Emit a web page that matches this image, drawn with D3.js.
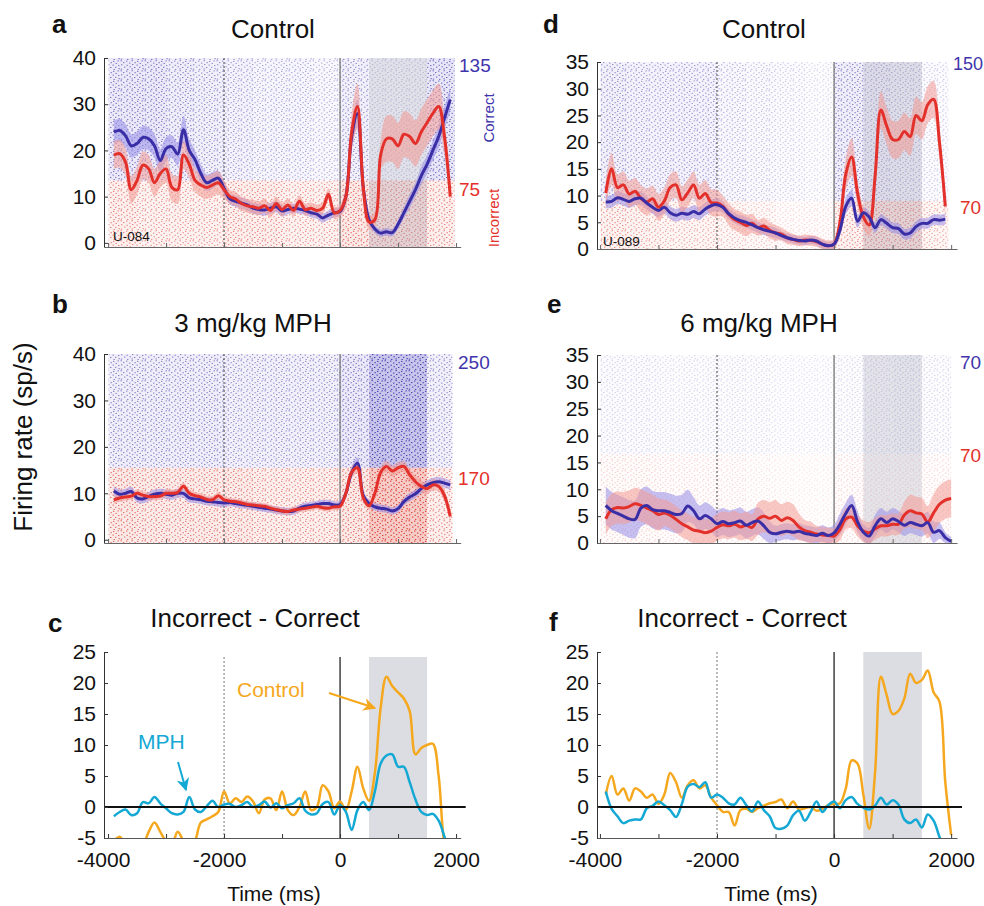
<!DOCTYPE html>
<html>
<head>
<meta charset="utf-8">
<script src="https://cdn.jsdelivr.net/npm/d3@7/dist/d3.min.js"></script>
<style>
  body { margin: 0; background: #ffffff; }
  svg { display: block; }
</style>
</head>
<body>
<svg id="chart" width="984" height="906"></svg>
<script>
// ---- data --------------------------------------------------------------
// time grids in ms, relative to the target onset
const tGrid = d3.range(-3900, 2000, 100);      // -3900 .. 1900
const tGridLong = d3.range(-3900, 2100, 100);  // -3900 .. 2000
const rasterBins = d3.range(-4000, 2000, 500); // 500 ms bins for raster density

// panel a: unit U-084, control session (sp/s)
const aCorrect = [24, 24.3, 23.2, 21, 21.5, 22.8, 22.5, 21, 17.8, 20.4,
  20.8, 19.2, 24.5, 20, 18, 15, 13, 13.5, 14, 11.8,
  9.5, 9, 8.6, 8.2, 7.5, 7.2, 7.1, 7.5, 7.8, 6.9,
  7.2, 7.5, 7.3, 7, 6.5, 6.2, 5.4, 6, 6.5, 6.8,
  10, 23, 28, 12, 5, 3, 2.1, 2.4, 2.2, 4,
  6.5, 9, 11.5, 14.5, 17, 20, 23, 27, 31];
const aIncorrect = [19, 19.3, 17.5, 11.5, 13.5, 16.8, 16, 13, 15, 16,
  12, 11.5, 19, 17, 13.5, 12.5, 12, 12.5, 13, 11.5,
  10, 9.5, 8.5, 8, 7.8, 7.5, 8, 7, 8.5, 7.2,
  8.2, 7, 9, 7.2, 7.5, 7, 7.5, 10.5, 6.5, 7,
  10, 24, 29.5, 12, 4.5, 5, 19, 22.5, 22.5, 21,
  23.5, 23, 21.5, 24, 26, 28, 29.5, 23, 10];
const aCorrectErr = [2.5, 2.5, 2.5, 2.5, 2.5, 2.5, 2.5, 2.5, 2.5, 2.5,
  2.5, 2.5, 3, 2.5, 2, 2, 1.8, 1.8, 1.5, 1.5,
  1.2, 1.2, 1.2, 1.2, 1.2, 1.2, 1.2, 1.2, 1.2, 1.2,
  1, 1, 1, 1, 1, 1, 1, 1, 1, 1,
  1.5, 2.5, 3, 2, 1, 0.8, 0.8, 0.8, 0.8, 1,
  1.2, 1.5, 1.5, 2, 2, 2, 2.5, 2.5, 2.5];
const aIncorrectErr = [3, 3, 3, 3, 3, 3, 3, 3, 3, 3,
  3, 3, 3, 3, 2.5, 2.5, 2.5, 2.5, 2.5, 2,
  1.5, 1.5, 1.5, 1.5, 1.5, 1.5, 1.5, 1.5, 1.5, 1.5,
  1.3, 1.3, 1.3, 1.3, 1.3, 1.3, 1.3, 1.3, 1.3, 1.3,
  2.5, 4, 5, 3, 1.5, 1.5, 3, 5, 5, 5,
  5, 5, 5, 5, 5, 5, 5, 4, 2];
const aCorrectDensity = [0.6, 0.6, 0.55, 0.5, 0.45, 0.4, 0.4, 0.35, 0.5, 0.4, 0.4, 0.65];
const aIncorrectDensity = [0.55, 0.5, 0.5, 0.5, 0.55, 0.55, 0.5, 0.5, 0.65, 0.9, 0.9, 0.55];

// panel b: same unit, 3 mg/kg MPH
const bCorrect = [10.5, 9.8, 10, 10.4, 9, 8.8, 9.3, 9.8, 10, 9.8,
  9.6, 10, 10, 9, 8.8, 8.6, 8.3, 8.2, 8, 7.9,
  8, 7.8, 7.6, 7.4, 7.2, 7, 6.8, 6.6, 6.4, 6.2,
  6.1, 6.2, 6.8, 7.2, 7.4, 7.6, 7.8, 7.8, 7.5, 7.6,
  10, 14.5, 16.5, 9.5, 7.8, 7.1, 6.8, 6.6, 6.2, 6.7,
  8.2, 9.2, 9.9, 11, 11.8, 12.3, 12.5, 12.2, 11.8];
const bIncorrect = [8.6, 9, 9.2, 9.4, 10, 9.6, 9.3, 9.3, 9.4, 10,
  10, 10.2, 11.5, 10, 9.5, 9.2, 8.7, 8.6, 9.5, 8.6,
  8.3, 8.2, 7.9, 7.6, 7.5, 7.3, 7.2, 6.8, 6.5, 6.2,
  6.1, 6.4, 6.6, 6.8, 7, 7.2, 6.9, 6.8, 7.1, 7.2,
  10, 14.5, 15.5, 9, 7.3, 10, 14.5, 15.8, 14.8, 15.5,
  15.8, 14, 12.5, 11.5, 11, 11.8, 11.5, 9.5, 5];
const bCorrectErr = [1, 1, 1, 1, 1, 1, 1, 1, 1, 1,
  1, 1, 1, 1, 0.9, 0.9, 0.9, 0.9, 0.9, 0.9,
  0.8, 0.8, 0.8, 0.8, 0.8, 0.8, 0.8, 0.8, 0.8, 0.8,
  0.8, 0.8, 0.8, 0.8, 0.8, 0.8, 0.8, 0.8, 0.8, 0.8,
  1, 1.2, 1.2, 1, 0.8, 0.8, 0.8, 0.8, 0.8, 0.8,
  0.8, 0.9, 0.9, 1, 1, 1, 1, 1, 1];
const bIncorrectErr = [0.8, 0.8, 0.8, 0.8, 0.8, 0.8, 0.8, 0.8, 0.8, 0.8,
  0.8, 0.8, 0.8, 0.8, 0.8, 0.8, 0.8, 0.8, 0.8, 0.8,
  0.7, 0.7, 0.7, 0.7, 0.7, 0.7, 0.7, 0.7, 0.7, 0.7,
  0.7, 0.7, 0.7, 0.7, 0.7, 0.7, 0.7, 0.7, 0.7, 0.7,
  1, 1.2, 1.2, 1, 0.8, 1, 1.2, 1.2, 1.2, 1.2,
  1.2, 1.2, 1.2, 1.2, 1.2, 1.2, 1.2, 1.2, 1.2];
const bCorrectDensity = [0.55, 0.55, 0.55, 0.55, 0.5, 0.5, 0.5, 0.5, 0.6, 1, 1, 0.5];
const bIncorrectDensity = [0.65, 0.6, 0.6, 0.6, 0.6, 0.55, 0.55, 0.55, 0.65, 1, 1, 0.55];

// panel d: unit U-089, control session
const dCorrect = [8.8, 8.9, 9.6, 9.3, 8.9, 9.4, 9.5, 8.6, 7.8, 7.2,
  7.8, 6.8, 6.3, 6.7, 6.5, 7, 6.6, 7.5, 8.1, 8.3,
  7.8, 6.6, 5.8, 5.3, 5, 4.5, 4, 3.6, 3.3, 3,
  2.5, 2.1, 1.8, 1.6, 1.5, 1.7, 1.5, 0.9, 0.6, 0.9,
  3.5, 8, 9.5, 5.2, 6.8, 6, 4, 5.5, 4.8, 4,
  3.8, 2.8, 3, 4.2, 4.8, 4.8, 5.5, 5.4, 5.6];
const dIncorrect = [10.5, 15, 11.5, 12, 10.3, 10.8, 9.5, 8.8, 9.4, 7.8,
  9, 11.5, 12, 9.2, 10.5, 12, 9.5, 10.4, 8.7, 8.6,
  8, 6.5, 5.5, 5, 4.4, 4.8, 4, 4.3, 3.5, 3,
  2.8, 2.1, 1.8, 1.5, 1.7, 1.6, 1.4, 0.9, 0.6, 0.9,
  5, 14, 17.2, 10.5, 6, 4.5, 13.5, 26, 23, 20.5,
  20.5, 22, 21, 25, 24, 27, 28, 20, 8];
const dCorrectErr = [1.2, 1.2, 1.2, 1.2, 1.2, 1.2, 1.2, 1.2, 1.2, 1.2,
  1.2, 1.2, 1.2, 1.2, 1.2, 1.2, 1.2, 1.2, 1.2, 1.2,
  1, 1, 1, 1, 1, 1, 1, 1, 1, 1,
  0.8, 0.8, 0.8, 0.8, 0.8, 0.8, 0.8, 0.8, 0.8, 0.8,
  1, 1.5, 1.5, 1.2, 1, 1, 1, 1, 1, 1,
  1, 1, 1, 1, 1, 1, 1, 1, 1];
const dIncorrectErr = [2.5, 3, 2.5, 2.5, 2.5, 2.5, 2.5, 2.5, 2.5, 2.5,
  2.5, 2.5, 2.5, 2.5, 2.5, 2.5, 2.5, 2.5, 2.5, 2.5,
  2, 2, 2, 2, 2, 1.8, 1.5, 1.5, 1.5, 1.5,
  1.2, 1.2, 1, 1, 1, 1, 1, 1, 1, 1,
  1.5, 3, 3.5, 2.5, 2, 2, 3, 3.5, 3.5, 3.5,
  3.5, 3.5, 3.5, 3.5, 3.5, 3.5, 3.5, 3, 2];
const dCorrectDensity = [0.5, 0.45, 0.45, 0.45, 0.35, 0.3, 0.25, 0.2, 0.55, 0.6, 0.55, 0.25];
const dIncorrectDensity = [0.5, 0.45, 0.4, 0.4, 0.35, 0.3, 0.2, 0.2, 0.5, 0.9, 0.9, 0.4];

// panel e: same unit, 6 mg/kg MPH (grid runs to 2000 ms)
const eCorrect = [7, 6, 5.5, 5, 4.5, 4.4, 6.5, 7, 6.2, 6,
  6, 5.7, 5.3, 5.5, 6.9, 6, 4.5, 5.1, 4.5, 3.6,
  4, 3.6, 3.8, 4.1, 3.3, 3.8, 4.1, 3.2, 2, 1.7,
  2, 2.2, 2, 2.2, 1.8, 1.6, 1.4, 1.8, 1.4, 1.9,
  3.5, 5.5, 7, 4, 2, 1.3, 3.2, 4.5, 3.8, 4.5,
  4, 3.3, 3.8, 3.5, 3.2, 3.8, 2, 2.3, 1, 0.3];
const eIncorrect = [4.5, 6.2, 6.6, 6.5, 6.8, 7.3, 7, 6.5, 6, 5.3,
  5.6, 5.2, 4.4, 3.6, 3, 2.4, 2.2, 1.9, 2.2, 2.9,
  3.4, 3.2, 3.5, 3, 3.3, 2.9, 4.5, 5, 4.6, 5,
  4.2, 4.7, 4.2, 3, 2.3, 2, 1.7, 1.5, 1.4, 1.3,
  2.5, 4.5, 4.8, 3.2, 2.2, 1.9, 2.6, 3.2, 3.2, 3.5,
  3.5, 5.2, 6, 5.6, 5.4, 3.9, 5.6, 7.2, 8, 8.3];
const eCorrectErr = [3.5, 3.5, 3.5, 3.5, 3.5, 3.5, 3.5, 3.5, 3.5, 3.5,
  3.5, 3.5, 3.5, 3.5, 3, 2.5, 2.5, 2.5, 2.5, 2.5,
  2.5, 2.5, 2.5, 2.5, 2.5, 2.5, 2.5, 2.5, 2, 1.5,
  1.5, 1.5, 1.5, 1.5, 1.5, 1.5, 1.5, 1.5, 1.5, 1.5,
  2, 2, 2, 2, 1.5, 1.5, 2, 2, 2, 2,
  2, 2, 2, 2, 2, 2, 2, 1.5, 1, 0.8];
const eIncorrectErr = [3, 3, 3, 3, 3, 3, 3, 3, 3, 3,
  2.5, 2.5, 2.5, 2.5, 2.5, 2.5, 2.5, 2.5, 2.5, 2.5,
  2.5, 2.5, 2.5, 2.5, 2.5, 2.5, 3, 3, 3, 3,
  3, 3, 3, 2.5, 2, 2, 1.5, 1.5, 1.5, 1.5,
  2, 2, 2, 2, 2, 2, 2, 2, 2, 2,
  2, 2.5, 3, 3, 3, 3, 3.5, 3.5, 3.5, 3.5];
const eCorrectDensity = [0.22, 0.22, 0.18, 0.2, 0.2, 0.18, 0.15, 0.15, 0.2, 0.3, 0.35, 0.2];
const eIncorrectDensity = [0.22, 0.22, 0.2, 0.2, 0.18, 0.15, 0.12, 0.12, 0.2, 0.25, 0.25, 0.18];

// panels c and f: incorrect minus correct (sp/s)
const cControl = [-5.5, -4.8, -6, -6.5, -6, -6, -4, -2.5, -4, -5.5,
  -6, -4, -5.5, -7, -5.5, -2.5, -2, -1.5, -0.8, 2.5,
  0.6, 1.4, 0.8, 1.7, 0.9, -1, 1.2, 1.4, -0.5, 2.5,
  -0.5, -1.3, 0, 2.5, -0.5, 0, 3.5, 2.5, -0.2, 0.9,
  -0.5, 2.5, 6.5, 3, 1, 5.5, 16, 21, 19.5, 18.5,
  17.5, 15.5, 8.5, 9.5, 10, 10.2, 5, -6, -9];
const cMPH = [-1.5, -0.8, -0.4, -1.3, -1, 0.8, 0.6, 1.6, 0.6, -0.2,
  -1, -1.2, -0.8, 1.6, -0.4, -0.8, 0.1, 1, 0, 0.4,
  0.5, 0, 0.3, 0.8, 0, 0.3, 0.9, -0.1, 0.6, -0.2,
  0.3, 0.6, 1.4, -0.6, -1.2, -1, 0.5, 0.8, -1.2, 0.3,
  -0.8, -3.7, -0.5, 0.8, -0.5, 2.5, 7, 8.3, 8.5, 6.5,
  6.5, 4, 1.2, -0.8, -1.3, -1.1, -2.2, -4.8, -8];
const fControl = [2, 5, 2, 3, 1, 3, 2.5, 1.5, 2, 0.5,
  2, 5.5, 4, 1.5, 3.5, 4.3, 3, 3.5, 1.5, 0.3,
  -0.8, -0.8, -3, -0.5, -0.3, -0.8, -0.2, 0.2, 0.6, 0.8,
  1.2, -0.2, 0.9, -0.4, -0.2, 0, -0.6, -0.3, 0.3, 0.5,
  0.6, 3, 7.5, 7, 2, -3.5, 5.5, 21, 18, 15,
  15.5, 17.5, 21.5, 20, 20.5, 22, 18.5, 17, 4, -4.5];
const fMPH = [2.5, -0.3, -1.5, -2.6, -2.2, -2, -2, -0.2, 0.2, 0.9,
  0.3, -0.5, -1.6, 0.5, 3.3, 3.7, 3.2, 4, 1.5, 2,
  1.5, 0.6, 0.4, 1.5, 0.3, -0.7, 0.9, -0.5, -1.5, -3.4,
  -3.5, -3, -1.3, -0.6, -2.2, -0.8, 0.9, -0.8, 0.3, 0.9,
  -0.2, 1.1, 1.6, 0.5, -0.1, -0.4, 0.2, 1.5, 0.4, 1.1,
  0.4, -2, -2.6, -2, -3.3, -1.2, -2.2, -4.8, -7, -9];

const xTickValues = d3.range(-4000, 2001, 1000);
const rateTicks40 = [0, 10, 20, 30, 40];
const rateTicks35 = [0, 5, 10, 15, 20, 25, 30, 35];
const diffTicks = [-5, 0, 5, 10, 15, 20, 25];

// ---- styling ------------------------------------------------------------
const FONT = '"Liberation Sans", Arial, Helvetica, sans-serif';
const BLUE = '#3a2ea6';
const RED = '#e4302a';
const ORANGE = '#f5a81e';
const CYAN = '#14a8d4';
const WINDOW_GREY = '#dcdde2';

const svg = d3.select('#chart');
const defs = svg.append('defs');

// tiny spike marks for the raster texture
function dotPattern(id, colour) {
  const p = defs.append('pattern')
    .attr('id', id)
    .attr('patternUnits', 'userSpaceOnUse')
    .attr('width', 24)
    .attr('height', 10);
  const spots = [[0.5, 0.3], [6, 0.6], [11.5, 0.2], [17, 0.9], [21.5, 0.4],
    [3, 2.1], [9, 2.6], [14.5, 2.2], [19.5, 2.9], [1, 4.3], [6.5, 4.8], [12, 4.1],
    [16.5, 4.6], [22, 5.1], [4, 6.6], [9.5, 6.3], [14, 7.0], [19, 6.8],
    [0.8, 8.6], [7, 8.9], [11.5, 8.4], [17.5, 9.1], [22.5, 8.2]];
  spots.forEach(([sx, sy]) => {
    p.append('rect')
      .attr('x', sx).attr('y', sy)
      .attr('width', 1.4).attr('height', 1)
      .attr('fill', colour);
  });
}
dotPattern('dots-blue', '#4337ad');
dotPattern('dots-red', '#d9372a');

function arrowMarker(id, colour) {
  defs.append('marker')
    .attr('id', id)
    .attr('viewBox', '0 0 10 10')
    .attr('refX', 9).attr('refY', 5)
    .attr('markerWidth', 13).attr('markerHeight', 13)
    .attr('markerUnits', 'userSpaceOnUse')
    .attr('orient', 'auto')
    .append('path')
    .attr('d', 'M0,0 L10,5 L0,10 L3,5 Z')
    .attr('fill', colour);
}
arrowMarker('arrow-orange', ORANGE);
arrowMarker('arrow-cyan', CYAN);

// column scales (the axis line runs a little past -4000 and 2000)
const xLeftCol = d3.scaleLinear().domain([-4070, 2080]).range([104, 460.7]);
const xRightCol = d3.scaleLinear().domain([-4050, 2100]).range([597, 957]);

function styleAxis(g) {
  g.attr('font-family', FONT).attr('font-size', 21);
  g.select('.domain').attr('stroke', '#333').attr('stroke-width', 1);
  g.selectAll('.tick line').attr('stroke', '#333');
  g.selectAll('.tick text').attr('fill', '#111');
}

function addText(parent, x, y, str, opts = {}) {
  const t = parent.append('text')
    .attr('x', x).attr('y', y)
    .attr('font-family', FONT)
    .attr('font-size', opts.size || 21)
    .attr('font-weight', opts.weight || 'normal')
    .attr('fill', opts.fill || '#111')
    .attr('text-anchor', opts.anchor || 'start')
    .text(str);
  if (opts.rotate) {
    t.attr('x', 0).attr('y', 0)
      .attr('transform', `translate(${x},${y}) rotate(${opts.rotate})`);
  }
  return t;
}

function eventLines(plot, x, top, bottom, dottedColour, solidColour) {
  plot.append('line')
    .attr('x1', x(-2000)).attr('x2', x(-2000))
    .attr('y1', top).attr('y2', bottom)
    .attr('stroke', dottedColour)
    .attr('stroke-width', 1)
    .attr('stroke-dasharray', '2,2');
  plot.append('line')
    .attr('x1', x(0)).attr('x2', x(0))
    .attr('y1', top).attr('y2', bottom)
    .attr('stroke', solidColour)
    .attr('stroke-width', 1.2);
}

// ---- raster + firing rate panels -----------------------------------------
function drawRasterPanel(p) {
  const x = p.x, y = p.y;
  const left = x.range()[0], right = x.range()[1];
  const bottom = y.range()[0], top = y.range()[1];
  const clipId = `clip-${p.id}`;
  defs.append('clipPath').attr('id', clipId)
    .append('rect')
    .attr('x', left).attr('y', top - 3)
    .attr('width', right - left).attr('height', bottom - top + 3);

  const g = svg.append('g');
  const plot = g.append('g').attr('clip-path', `url(#${clipId})`);

  // raster: correct trials on top, incorrect trials below
  const groups = [
    {from: y.domain()[1], to: p.split, density: p.correctDensity, pattern: 'dots-blue', tint: '#7168cc'},
    {from: p.split, to: y.domain()[0], density: p.incorrectDensity, pattern: 'dots-red', tint: '#ea7c72'}
  ];
  groups.forEach(grp => {
    rasterBins.forEach((b, i) => {
      const x0 = x(Math.max(b, p.rasterStart));
      const x1 = x(Math.min(b + 500, p.rasterEnd));
      if (x1 <= x0) return;
      const dens = grp.density[i];
      plot.append('rect')
        .attr('x', x0).attr('y', y(grp.from))
        .attr('width', x1 - x0).attr('height', y(grp.to) - y(grp.from))
        .attr('fill', grp.tint)
        .attr('fill-opacity', dens * dens * 0.38);
      plot.append('rect')
        .attr('x', x0).attr('y', y(grp.from))
        .attr('width', x1 - x0).attr('height', y(grp.to) - y(grp.from))
        .attr('fill', `url(#${grp.pattern})`)
        .attr('opacity', Math.min(1, dens * 1.15));
    });
  });

  // response window, laid over the raster as a translucent grey
  if (p.window) {
    plot.append('rect')
      .attr('x', x(500)).attr('y', top)
      .attr('width', x(1500) - x(500)).attr('height', bottom - top)
      .attr('fill', '#c9cad3')
      .attr('fill-opacity', 0.5);
  }

  eventLines(plot, x, top, bottom, '#444', '#6a6a6a');

  const series = [
    {values: p.correct, err: p.correctErr, line: BLUE, band: '#978ee8'},
    {values: p.incorrect, err: p.incorrectErr, line: RED, band: '#f39a93'}
  ];
  series.forEach(s => {
    const area = d3.area()
      .x((d, i) => x(p.t[i]))
      .y0((d, i) => y(d - s.err[i]))
      .y1((d, i) => y(d + s.err[i]))
      .curve(d3.curveCatmullRom.alpha(0.5));
    plot.append('path')
      .datum(s.values)
      .attr('d', area)
      .attr('fill', s.band)
      .attr('fill-opacity', 0.55);
  });

  const order = p.correctOnTop ? [series[1], series[0]] : series;
  order.forEach(s => {
    const line = d3.line()
      .x((d, i) => x(p.t[i]))
      .y(d => y(d))
      .curve(d3.curveCatmullRom.alpha(0.5));
    plot.append('path')
      .datum(s.values)
      .attr('d', line)
      .attr('fill', 'none')
      .attr('stroke', s.line)
      .attr('stroke-width', 3)
      .attr('stroke-linejoin', 'round');
  });

  const yAxis = g.append('g')
    .attr('transform', `translate(${left},0)`)
    .call(d3.axisLeft(y).tickValues(p.yTicks).tickSize(-4).tickSizeOuter(0).tickPadding(8)
      .tickFormat(d => String(d)));
  styleAxis(yAxis);

  const xAxis = g.append('g')
    .attr('transform', `translate(0,${bottom})`)
    .call(d3.axisBottom(x).tickValues(xTickValues).tickSize(-4).tickSizeOuter(0).tickFormat(''));
  styleAxis(xAxis);
  xAxis.select('.domain').attr('stroke', '#666');
  xAxis.selectAll('.tick line').attr('stroke', '#666');

  return g;
}

// ---- difference panels -----------------------------------------------------
function drawDiffPanel(p) {
  const x = p.x, y = p.y;
  const left = x.range()[0], right = x.range()[1];
  const bottom = y.range()[0], top = y.range()[1];
  const clipId = `clip-${p.id}`;
  defs.append('clipPath').attr('id', clipId)
    .append('rect')
    .attr('x', left).attr('y', top)
    .attr('width', right - left).attr('height', bottom - top);

  const g = svg.append('g');
  const plot = g.append('g').attr('clip-path', `url(#${clipId})`);

  plot.append('rect')
    .attr('x', x(500)).attr('y', p.windowTop)
    .attr('width', x(1500) - x(500)).attr('height', bottom - p.windowTop)
    .attr('fill', WINDOW_GREY);

  eventLines(plot, x, p.windowTop, bottom, '#777', '#111');

  [[p.control, ORANGE], [p.mph, CYAN]].forEach(([values, colour]) => {
    const line = d3.line()
      .x((d, i) => x(p.t[i]))
      .y(d => y(d))
      .curve(d3.curveCatmullRom.alpha(0.5));
    plot.append('path')
      .datum(values)
      .attr('d', line)
      .attr('fill', 'none')
      .attr('stroke', colour)
      .attr('stroke-width', 2.5)
      .attr('stroke-linejoin', 'round');
  });

  g.append('line')
    .attr('x1', left).attr('x2', right + 5)
    .attr('y1', y(0)).attr('y2', y(0))
    .attr('stroke', '#111')
    .attr('stroke-width', 2);

  const yAxis = g.append('g')
    .attr('transform', `translate(${left},0)`)
    .call(d3.axisLeft(y).tickValues(diffTicks).tickSize(-4).tickSizeOuter(0).tickPadding(8)
      .tickFormat(d => String(d)));
  styleAxis(yAxis);

  const xAxis = g.append('g')
    .attr('transform', `translate(0,${bottom})`)
    .call(d3.axisBottom(x).tickValues(xTickValues).tickSize(-4).tickSizeOuter(0).tickPadding(14)
      .tickFormat(d => (d % 2000 === 0 ? String(d) : '')));
  styleAxis(xAxis);
  xAxis.selectAll('.tick text').attr('dx', d => (d < 0 ? -5 : 0));
  xAxis.select('.domain').attr('stroke', '#555');

  return g;
}

// ---- panels -----------------------------------------------------------------
drawRasterPanel({
  id: 'a', x: xLeftCol, y: d3.scaleLinear().domain([-0.9, 40]).range([247, 58]),
  yTicks: rateTicks40, split: 13.5, t: tGrid,
  correct: aCorrect, incorrect: aIncorrect, correctErr: aCorrectErr, incorrectErr: aIncorrectErr,
  correctDensity: aCorrectDensity, incorrectDensity: aIncorrectDensity,
  rasterStart: -3990, rasterEnd: 1975, window: true, correctOnTop: false
});
drawRasterPanel({
  id: 'b', x: xLeftCol, y: d3.scaleLinear().domain([-0.7, 40]).range([543, 354]),
  yTicks: rateTicks40, split: 15.5, t: tGrid,
  correct: bCorrect, incorrect: bIncorrect, correctErr: bCorrectErr, incorrectErr: bIncorrectErr,
  correctDensity: bCorrectDensity, incorrectDensity: bIncorrectDensity,
  rasterStart: -3990, rasterEnd: 1940, window: false, correctOnTop: false
});
drawRasterPanel({
  id: 'd', x: xRightCol, y: d3.scaleLinear().domain([0, 35]).range([249, 62]),
  yTicks: rateTicks35, split: 9, t: tGrid,
  correct: dCorrect, incorrect: dIncorrect, correctErr: dCorrectErr, incorrectErr: dIncorrectErr,
  correctDensity: dCorrectDensity, incorrectDensity: dIncorrectDensity,
  rasterStart: -3990, rasterEnd: 1950, window: true, correctOnTop: true
});
drawRasterPanel({
  id: 'e', x: xRightCol, y: d3.scaleLinear().domain([0, 35]).range([543, 355]),
  yTicks: rateTicks35, split: 16.5, t: tGridLong,
  correct: eCorrect, incorrect: eIncorrect, correctErr: eCorrectErr, incorrectErr: eIncorrectErr,
  correctDensity: eCorrectDensity, incorrectDensity: eIncorrectDensity,
  rasterStart: -3990, rasterEnd: 2080, window: true, correctOnTop: true
});
drawDiffPanel({
  id: 'c', x: xLeftCol, y: d3.scaleLinear().domain([-5, 25]).range([838, 652]),
  t: tGrid, control: cControl, mph: cMPH, windowTop: 657
});
drawDiffPanel({
  id: 'f', x: xRightCol, y: d3.scaleLinear().domain([-5, 25]).range([838, 652]),
  t: tGridLong, control: fControl, mph: fMPH, windowTop: 652
});

// ---- text ---------------------------------------------------------------------
const labels = svg.append('g');

// panel letters
[['a', 52, 33], ['b', 52, 313], ['c', 48, 632], ['d', 543, 33], ['e', 547, 313], ['f', 549, 631]]
  .forEach(([s, x, y]) => addText(labels, x, y, s, {size: 26, weight: 'bold'}));

// titles
[['Control', 273, 38], ['3 mg/kg MPH', 253, 332], ['Incorrect - Correct', 255, 627],
  ['Control', 764, 38], ['6 mg/kg MPH', 759, 332], ['Incorrect - Correct', 742, 627]]
  .forEach(([s, x, y]) => addText(labels, x, y, s, {size: 26, anchor: 'middle'}));

// trial counts
addText(labels, 459, 72, '135', {size: 19, fill: '#4034ac'});
addText(labels, 459, 196, '75', {size: 19, fill: RED});
addText(labels, 458, 369, '250', {size: 19, fill: '#4034ac'});
addText(labels, 458, 485, '170', {size: 19, fill: RED});
addText(labels, 953, 70, '150', {size: 18, fill: '#4034ac'});
addText(labels, 960, 214, '70', {size: 19, fill: RED});
addText(labels, 960, 369, '70', {size: 19, fill: '#4034ac'});
addText(labels, 960, 462, '70', {size: 19, fill: RED});

addText(labels, 494, 118, 'Correct', {size: 15, fill: '#4034ac', anchor: 'middle', rotate: -90});
addText(labels, 499, 218, 'Incorrect', {size: 15, fill: RED, anchor: 'middle', rotate: -90});

addText(labels, 113, 241, 'U-084', {size: 13.5});
addText(labels, 603, 246, 'U-089', {size: 13.5});

addText(labels, 32, 437, 'Firing rate (sp/s)', {size: 26, anchor: 'middle', rotate: -90});
addText(labels, 274, 901, 'Time (ms)', {size: 21, anchor: 'middle'});
addText(labels, 771, 901, 'Time (ms)', {size: 21, anchor: 'middle'});

// annotations in panel c
addText(labels, 237, 697, 'Control', {size: 21, fill: ORANGE});
labels.append('path')
  .attr('d', 'M329,693 L375,708')
  .attr('stroke', ORANGE).attr('stroke-width', 2).attr('fill', 'none')
  .attr('marker-end', 'url(#arrow-orange)');
addText(labels, 138, 749, 'MPH', {size: 21, fill: CYAN});
labels.append('path')
  .attr('d', 'M178,762 L186,790')
  .attr('stroke', CYAN).attr('stroke-width', 2).attr('fill', 'none')
  .attr('marker-end', 'url(#arrow-cyan)');
</script>
</body>
</html>
